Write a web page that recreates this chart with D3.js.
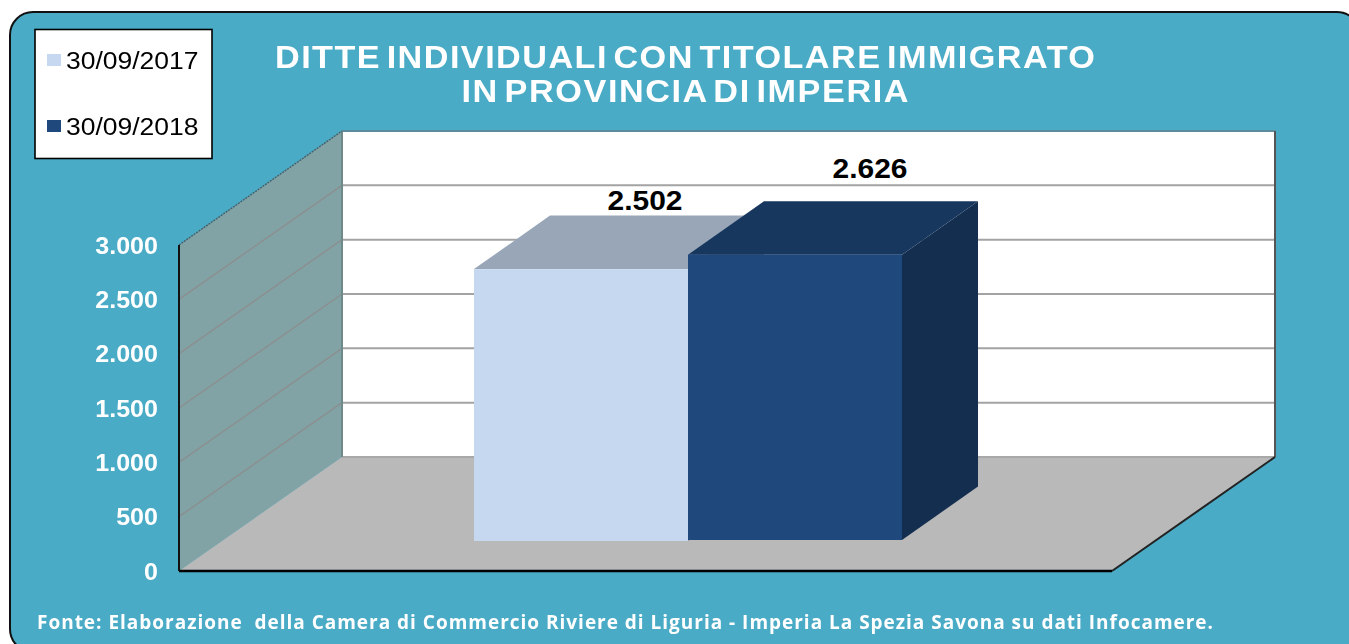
<!DOCTYPE html>
<html><head><meta charset="utf-8">
<style>html,body{margin:0;padding:0;background:#fff;overflow:hidden}svg{display:block;filter:blur(0.4px)}</style>
<script src="https://cdn.jsdelivr.net/npm/d3@7"></script></head><body>
<script>
const seriesNames = ["30/09/2017", "30/09/2018"];
const seriesValues = [2502, 2626];
const valueLabels = ["2.502", "2.626"];
const yTicks = [0, 500, 1000, 1500, 2000, 2500, 3000];
const titleLines = ["DITTE INDIVIDUALI CON TITOLARE IMMIGRATO", "IN PROVINCIA DI IMPERIA"];
const sourceNote = "Fonte: Elaborazione  della Camera di Commercio Riviere di Liguria - Imperia La Spezia Savona su dati Infocamere.";

const W = 1349, H = 644, stretch = 1.09, titleStretch = 1.07;
const svg = d3.select("body").append("svg").attr("width", W).attr("height", H);

const y = d3.scaleLinear().domain([0, 3000]).range([571, 245]);
const depthX = 163, depthY = -114, wallRight = 1112;
const P = pts => pts.map(p => p.join(",")).join(" ");
const loc = d3.formatLocale({decimal:",",thousands:".",grouping:[3],currency:["",""]});

svg.append("rect").attr("x",10).attr("y",12).attr("width",1350).attr("height",640).attr("rx",23)
  .attr("fill","#4aabc6").attr("stroke","#111").attr("stroke-width",2);

const chart = svg.append("g");
const x0 = 179;
// back wall
chart.append("rect").attr("x",x0+depthX).attr("y",y(3000)+depthY).attr("width",wallRight-x0)
  .attr("height",y(0)-y(3000)).attr("fill","#fff");
// side wall
chart.append("polygon").attr("points",P([[x0,y(0)],[x0,y(3000)],[x0+depthX,y(3000)+depthY],[x0+depthX,y(0)+depthY]])).attr("fill","#82a3a5");
// floor
chart.append("polygon").attr("points",P([[x0,y(0)],[wallRight,y(0)],[wallRight+depthX,y(0)+depthY],[x0+depthX,y(0)+depthY]])).attr("fill","#b9b9b9");
// gridlines
chart.selectAll("line.back").data(yTicks.filter(d=>d>0)).join("line").attr("class","back")
  .attr("x1",x0+depthX).attr("x2",wallRight+depthX).attr("y1",d=>y(d)+depthY).attr("y2",d=>y(d)+depthY)
  .attr("stroke",d=>d===3000?"#5d8b9c":"#a3a3a3").attr("stroke-width",2);
chart.append("line").attr("x1",x0+depthX).attr("x2",wallRight+depthX).attr("y1",y(0)+depthY).attr("y2",y(0)+depthY).attr("stroke","#a8a8a8").attr("stroke-width",2);
chart.selectAll("line.side").data(yTicks.filter(d=>d>0 && d<3000)).join("line").attr("class","side")
  .attr("x1",x0).attr("x2",x0+depthX).attr("y1",d=>y(d)).attr("y2",d=>y(d)+depthY)
  .attr("stroke","#8b8f8f").attr("stroke-width",1.4);
chart.append("line").attr("x1",x0+depthX).attr("x2",x0+depthX).attr("y1",y(3000)+depthY).attr("y2",y(0)+depthY).attr("stroke","#6f8a8b").attr("stroke-width",2);
chart.append("line").attr("x1",x0).attr("x2",x0+depthX).attr("y1",y(3000)).attr("y2",y(3000)+depthY).attr("stroke","#45606a").attr("stroke-width",1.4).attr("stroke-dasharray","2 1");
chart.append("line").attr("x1",wallRight+depthX).attr("x2",wallRight+depthX).attr("y1",y(3000)+depthY).attr("y2",y(0)+depthY).attr("stroke","#555").attr("stroke-width",2);
chart.append("line").attr("x1",wallRight).attr("x2",wallRight+depthX).attr("y1",y(0)).attr("y2",y(0)+depthY).attr("stroke","#222").attr("stroke-width",2);
chart.append("line").attr("x1",x0).attr("x2",wallRight).attr("y1",y(0)).attr("y2",y(0)).attr("stroke","#000").attr("stroke-width",2.5);
chart.append("line").attr("x1",x0).attr("x2",x0).attr("y1",y(3000)).attr("y2",y(0)).attr("stroke","#111").attr("stroke-width",2);

// bars
const band = d3.scaleBand().domain(seriesNames).range([474, 902]);
const barBase = [30, 31], barDX = 76, barDY = -53.5;
const colors = {front:["#c6d8f0","#1f487c"], top:["#98a6b8","#17375e"], side:["#7f8fa6","#142e50"]};
const labelX = [645, 870], labelLift = [59.5, 77];
seriesValues.forEach((v,i)=>{
  const xl = band(seriesNames[i]), xr = xl + band.bandwidth();
  const yb = y(0)-barBase[i], yt = yb-(y(0)-y(v));
  const g = chart.append("g");
  g.append("polygon").attr("points",P([[xr,yb],[xr+barDX,yb+barDY],[xr+barDX,yt+barDY],[xr,yt]])).attr("fill",colors.side[i]);
  g.append("polygon").attr("points",P([[xl,yt],[xl+barDX,yt+barDY],[xr+barDX,yt+barDY],[xr,yt]])).attr("fill",colors.top[i]);
  g.append("rect").attr("x",xl).attr("y",yt).attr("width",xr-xl).attr("height",yb-yt).attr("fill",colors.front[i]);
  svg.append("text").attr("transform",`translate(${labelX[i]},${yt-labelLift[i]}) scale(${stretch},1)`).attr("text-anchor","middle")
    .attr("font-family","Liberation Sans").attr("font-weight",700).attr("font-size",27.5).attr("fill","#000").text(valueLabels[i]);
});

// y axis labels
const ax = svg.append("g").attr("transform","translate(158,0)")
  .call(d3.axisLeft(y).tickValues(yTicks).tickSize(0).tickPadding(0).tickFormat(loc.format(",d")));
ax.select(".domain").remove();
ax.selectAll(".tick").each(function(d){
  d3.select(this).attr("transform",`translate(0,${y(d)+0.7}) scale(${stretch},1)`);
});
ax.selectAll("text").attr("font-family","Liberation Sans").attr("font-weight",700).attr("font-size",23)
  .attr("fill","#fff").attr("dy","0.34em");

// title
svg.selectAll("text.title").data(titleLines).join("text").attr("class","title")
  .attr("transform",(d,i)=>`translate(685,${68+i*34}) scale(${titleStretch},1)`).attr("text-anchor","middle")
  .attr("font-family","Liberation Sans").attr("font-weight",700).attr("font-size",32).attr("fill","#fff")
  .attr("word-spacing",-5)
  .attr("textLength",(d,i)=>[820,447][i]/titleStretch).attr("lengthAdjust","spacing").text(d=>d);

// legend
const leg = svg.append("g");
leg.append("rect").attr("x",35).attr("y",29.5).attr("width",177).attr("height",129).attr("fill","#fff").attr("stroke","#000").attr("stroke-width",1.6);
seriesNames.forEach((s,i)=>{
  leg.append("rect").attr("x",47).attr("y",54+i*66).attr("width",14).attr("height",12).attr("fill",colors.front[i]);
  leg.append("text").attr("transform",`translate(66,${69+i*65.5}) scale(${stretch},1)`).attr("font-family","Liberation Sans").attr("font-size",24.3).attr("fill","#000").text(s);
});

// source
svg.append("text").attr("x",37).attr("y",629).attr("font-family","Open Sans").attr("font-weight",700).attr("font-size",19)
  .attr("fill","#fff").style("white-space","pre")
  .attr("textLength",1176).attr("lengthAdjust","spacing").text(sourceNote);
</script></body></html>
